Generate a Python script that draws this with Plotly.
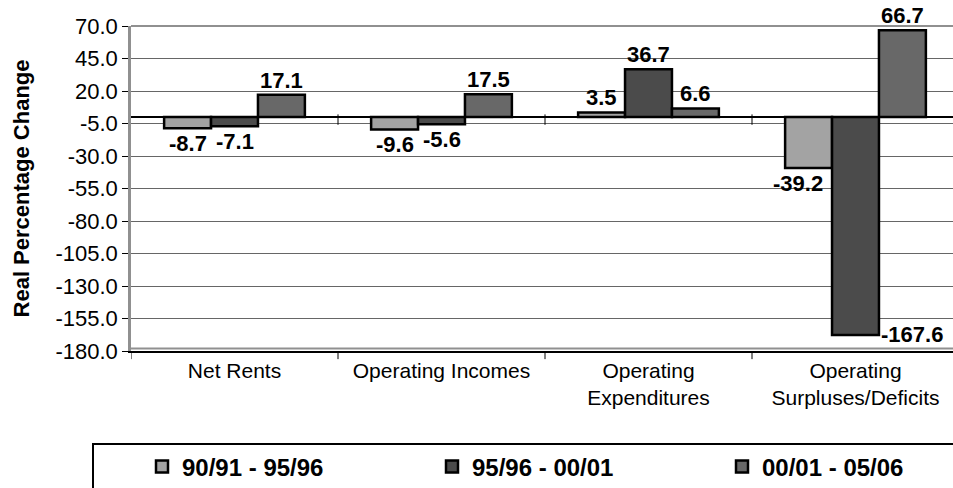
import plotly.graph_objects as go

categories = ["Net Rents", "Operating Incomes", "Operating<br>Expenditures", "Operating<br>Surpluses/Deficits"]
series_names = ["90/91 - 95/96", "95/96 - 00/01", "00/01 - 05/06"]
s1 = [-8.7, -9.6, 3.5, -39.2]
s2 = [-7.1, -5.6, 36.7, -167.6]
s3 = [17.1, 17.5, 6.6, 66.7]
tick_vals = [70, 45, 20, -5, -30, -55, -80, -105, -130, -155, -180]

colors = ["#A3A3A3", "#4B4B4B", "#686868"]
series = [s1, s2, s3]

FONT = "Arial, Liberation Sans, sans-serif"
bargap = 0.32
W, H = 953, 488
ml, mr, mt, mb = 131, 0, 26, 137
PW, PH = W - ml - mr, H - mt - mb

def px_x(p):
    return (p - ml) / PW

def px_y(p):
    return (H - mb - p) / PH

fig = go.Figure()
legend_ids = ["legend", "legend2", "legend3"]
for name, vals, col, lid in zip(series_names, series, colors, legend_ids):
    fig.add_trace(go.Bar(
        x=list(range(len(categories))), y=vals, name=name, legend=lid,
        marker=dict(color=col, line=dict(color="black", width=2.5)),
    ))

bw = (1 - bargap) / 3
ann = []
for si, vals in enumerate(series):
    for ci, v in enumerate(vals):
        xc = ci + (si - 1) * bw
        d = dict(x=xc, y=v, text=f"{v:.1f}", showarrow=False,
                 font=dict(family=FONT, size=22, color="black", weight="bold"))
        if v >= 0:
            d.update(yanchor="bottom", yshift=0)
        else:
            d.update(yanchor="top", yshift=-1)
        if v < -150:
            d.update(x=xc + bw / 2, xanchor="left", yanchor="middle", yshift=0, xshift=0)
        elif v < -30:
            d.update(xshift=-11)
        ann.append(d)

leg_common = dict(orientation="h", xanchor="left", yanchor="middle",
                  itemwidth=30, bgcolor="rgba(0,0,0,0)",
                  font=dict(family=FONT, size=24, color="black", weight="bold"))
leg_x = [142, 432, 722]

fig.update_layout(
    width=W, height=H,
    margin=dict(l=ml, r=mr, t=mt, b=mb, pad=0, autoexpand=False),
    paper_bgcolor="white", plot_bgcolor="white",
    barmode="group", bargap=bargap, bargroupgap=0,
    font=dict(family=FONT, size=21, color="black"),
    showlegend=True,
    legend=dict(x=px_x(leg_x[0]), y=px_y(467), **leg_common),
    legend2=dict(x=px_x(leg_x[1]), y=px_y(467), **leg_common),
    legend3=dict(x=px_x(leg_x[2]), y=px_y(467), **leg_common),
    annotations=ann,
    xaxis=dict(
        tickmode="array", tickvals=list(range(len(categories))), ticktext=categories,
        range=[-0.5, -0.5 + PW / 207.0],
        showline=True, linecolor="black", linewidth=1.5,
        ticks="", showgrid=False, zeroline=False, automargin=False,
        tickfont=dict(family=FONT, size=21, color="black"),
    ),
    yaxis=dict(
        range=[-180, 70], tickmode="array", tickvals=tick_vals,
        ticktext=[f"{t:.1f}" for t in tick_vals],
        showgrid=True, gridcolor="#666666", gridwidth=1,
        zeroline=True, zerolinecolor="black", zerolinewidth=1.5,
        showline=True, linecolor="#909090", linewidth=2.5,
        ticks="outside", ticklen=6, tickcolor="black", tickwidth=1,
        automargin=False,
        tickfont=dict(family=FONT, size=22, color="black"),
        title=dict(text="<b>Real Percentage Change</b>", standoff=20,
                   font=dict(family=FONT, size=22, color="black")),
    ),
)

shapes = []
for b in range(0, len(categories)):
    xb = b - 0.5
    shapes.append(dict(type="line", xref="x", yref="paper", x0=xb, x1=xb,
                       y0=-0.025, y1=0, line=dict(color="black", width=1)))
    if b > 0:
        shapes.append(dict(type="line", xref="x", yref="y", x0=xb, x1=xb,
                           y0=2, y1=-6, line=dict(color="black", width=1)))
shapes.append(dict(type="line", xref="paper", yref="paper", x0=0, x1=1, y0=1, y1=1,
                   line=dict(color="#909090", width=2)))
shapes.append(dict(type="line", xref="paper", yref="paper", x0=0, x1=1, y0=0.008, y1=0.008,
                   line=dict(color="#909090", width=2)))
shapes.append(dict(type="rect", xref="paper", yref="paper",
                   x0=px_x(93), x1=1.05, y0=px_y(500), y1=px_y(444),
                   line=dict(color="black", width=2), fillcolor="rgba(0,0,0,0)", layer="below"))
fig.update_layout(shapes=shapes)

fig.write_html("out.html", config={"displayModeBar": False},
               post_script="document.body.style.margin='0';document.body.style.overflow='hidden';")
